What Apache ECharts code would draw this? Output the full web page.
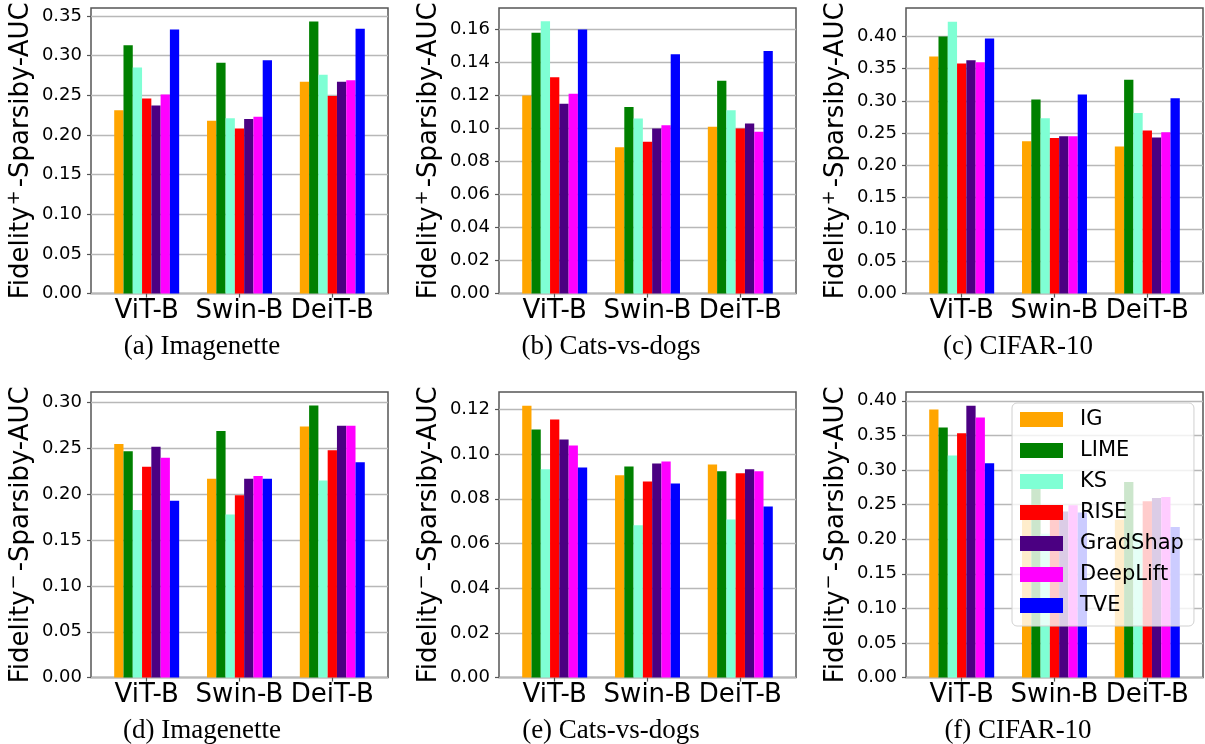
<!DOCTYPE html>
<html>
<head>
<meta charset="utf-8">
<script src="https://cdn.jsdelivr.net/npm/echarts@6/dist/echarts.min.js"></script>
<style>
  html, body { margin: 0; padding: 0; background: #fff; }
  #chart { width: 1205px; height: 744px; }
</style>
</head>
<body>
<div id="chart"></div>
<script>
// categories and methods
const models = ['ViT-B', 'Swin-B', 'DeiT-B'];
const methods = ['IG', 'LIME', 'KS', 'RISE', 'GradShap', 'DeepLift', 'TVE'];
const methodColors = ['#ffa500', '#008000', '#7fffd4', '#ff0000', '#4b0082', '#ff00ff', '#0000ff'];

// rows = methods (same order as above), columns = ViT-B, Swin-B, DeiT-B
const fidPlusImagenette = [
  [0.231, 0.218, 0.267],
  [0.313, 0.291, 0.343],
  [0.285, 0.221, 0.276],
  [0.246, 0.208, 0.249],
  [0.237, 0.220, 0.267],
  [0.251, 0.223, 0.269],
  [0.333, 0.294, 0.334],
];
const fidPlusCatsDogs = [
  [0.120, 0.0887, 0.101],
  [0.158, 0.113, 0.129],
  [0.165, 0.106, 0.111],
  [0.131, 0.092, 0.100],
  [0.115, 0.100, 0.103],
  [0.121, 0.102, 0.098],
  [0.160, 0.145, 0.147],
];
const fidPlusCifar = [
  [0.369, 0.237, 0.229],
  [0.400, 0.302, 0.333],
  [0.423, 0.273, 0.281],
  [0.358, 0.242, 0.254],
  [0.363, 0.245, 0.243],
  [0.360, 0.245, 0.251],
  [0.397, 0.310, 0.304],
];
const fidMinusImagenette = [
  [0.255, 0.217, 0.274],
  [0.247, 0.269, 0.297],
  [0.183, 0.178, 0.215],
  [0.230, 0.199, 0.248],
  [0.252, 0.217, 0.275],
  [0.240, 0.220, 0.275],
  [0.193, 0.217, 0.235],
];
const fidMinusCatsDogs = [
  [0.1217, 0.0905, 0.0954],
  [0.111, 0.0945, 0.0923],
  [0.0932, 0.0682, 0.0708],
  [0.1155, 0.0878, 0.0914],
  [0.1065, 0.0958, 0.0932],
  [0.1039, 0.0967, 0.0923],
  [0.094, 0.0869, 0.0766],
];
const fidMinusCifar = [
  [0.3875, 0.235, 0.228],
  [0.3615, 0.281, 0.2825],
  [0.321, 0.208, 0.209],
  [0.353, 0.240, 0.255],
  [0.393, 0.240, 0.2595],
  [0.376, 0.249, 0.261],
  [0.3096, 0.2385, 0.2178],
];

// y tick labels per panel
const ticksA = [0, 0.05, 0.10, 0.15, 0.20, 0.25, 0.30, 0.35];
const ticksB = [0, 0.02, 0.04, 0.06, 0.08, 0.10, 0.12, 0.14, 0.16];
const ticksC = [0, 0.05, 0.10, 0.15, 0.20, 0.25, 0.30, 0.35, 0.40];
const ticksD = [0, 0.05, 0.10, 0.15, 0.20, 0.25, 0.30];
const ticksE = [0, 0.02, 0.04, 0.06, 0.08, 0.10, 0.12];
const ticksF = [0, 0.05, 0.10, 0.15, 0.20, 0.25, 0.30, 0.35, 0.40];

const captions = ['(a) Imagenette', '(b) Cats-vs-dogs', '(c) CIFAR-10',
                  '(d) Imagenette', '(e) Cats-vs-dogs', '(f) CIFAR-10'];

const panels = [
  { data: fidPlusImagenette, ticks: ticksA, step: 0.05, max: 0.36, sign: '+' },
  { data: fidPlusCatsDogs, ticks: ticksB, step: 0.02, max: 0.173, sign: '+' },
  { data: fidPlusCifar, ticks: ticksC, step: 0.05, max: 0.4445, sign: '+' },
  { data: fidMinusImagenette, ticks: ticksD, step: 0.05, max: 0.3117, sign: '\u2212' },
  { data: fidMinusCatsDogs, ticks: ticksE, step: 0.02, max: 0.1278, sign: '\u2212' },
  { data: fidMinusCifar, ticks: ticksF, step: 0.05, max: 0.4127, sign: '\u2212' },
];

const FONT = 'DejaVu Sans';
const colLeft = [91, 499, 906];
const rowTop = [8, 392];
const captionX = [202, 611, 1018];
const captionTop = [333, 717];

const chart = echarts.init(document.getElementById('chart'), null, { renderer: 'canvas' });

const grids = [], xAxes = [], yAxes = [], series = [], titles = [];
panels.forEach((p, k) => {
  const col = k % 3, row = Math.floor(k / 3);
  grids.push({
    left: colLeft[col], top: rowTop[row], width: 297, height: 285.6,
    show: true, borderColor: '#555', borderWidth: 1.5, backgroundColor: 'transparent',
    outerBoundsMode: 'none', containLabel: false,
  });
  xAxes.push({
    type: 'value', gridIndex: k, min: -0.6, max: 2.6,
    axisLine: { show: false, onZero: false },
    splitLine: { show: false },
    axisTick: { show: true, customValues: [0, 1, 2], length: 4, lineStyle: { color: '#555', width: 1.2 } },
    axisLabel: {
      customValues: [0, 1, 2], margin: 5,
      formatter: (v) => models[Math.round(v)],
      fontFamily: FONT, fontSize: 26, color: '#000',
    },
  });
  yAxes.push({
    type: 'value', gridIndex: k, min: 0, max: p.max, interval: p.step,
    name: 'Fidelity{sup|' + p.sign + '}-Sparsiby-AUC',
    nameLocation: 'middle', nameGap: 53,
    nameTextStyle: {
      fontFamily: FONT, fontSize: 26, color: '#000', verticalAlign: 'bottom',
      rich: {
        sup: { fontFamily: FONT, fontSize: 18, color: '#000', verticalAlign: 'bottom', padding: [0, 3, 15, 1] },
      },
    },
    axisLine: { show: false, onZero: false },
    axisTick: { show: true, customValues: p.ticks, length: 4, lineStyle: { color: '#555', width: 1.2 } },
    axisLabel: {
      customValues: p.ticks, margin: 9,
      formatter: (v) => v.toFixed(2),
      fontFamily: FONT, fontSize: 18, color: '#000',
    },
    splitLine: { show: true, lineStyle: { color: '#b8b8b8', width: 1.3 } },
  });
  methods.forEach((m, j) => {
    series.push({
      type: 'bar', name: m, xAxisIndex: k, yAxisIndex: k,
      data: models.map((_, i) => [i, p.data[j][i]]),
      barGap: '0%', barCategoryGap: '30%',
      itemStyle: { color: methodColors[j] },
      emphasis: { disabled: true },
      animation: false,
    });
  });
  titles.push({
    text: captions[k], left: captionX[col], top: captionTop[row], textAlign: 'center', padding: 0,
    textStyle: { fontFamily: 'Liberation Serif', fontSize: 27, fontWeight: 'normal', color: '#000' },
  });
});

chart.setOption({
  animation: false,
  title: titles,
  grid: grids,
  xAxis: xAxes,
  yAxis: yAxes,
  series: series,
  legend: {
    data: methods,
    orient: 'vertical',
    left: 1012, top: 403,
    padding: [6, 10, 10, 8],
    itemWidth: 43, itemHeight: 15, itemGap: 10,
    icon: 'rect',
    backgroundColor: 'rgba(255,255,255,0.8)',
    borderColor: '#d0d0d0', borderWidth: 1, borderRadius: 5,
    textStyle: { fontFamily: FONT, fontSize: 21, lineHeight: 21, color: '#000', padding: [0, 0, 0, 12] },
    selectedMode: false,
  },
});
</script>
</body>
</html>
